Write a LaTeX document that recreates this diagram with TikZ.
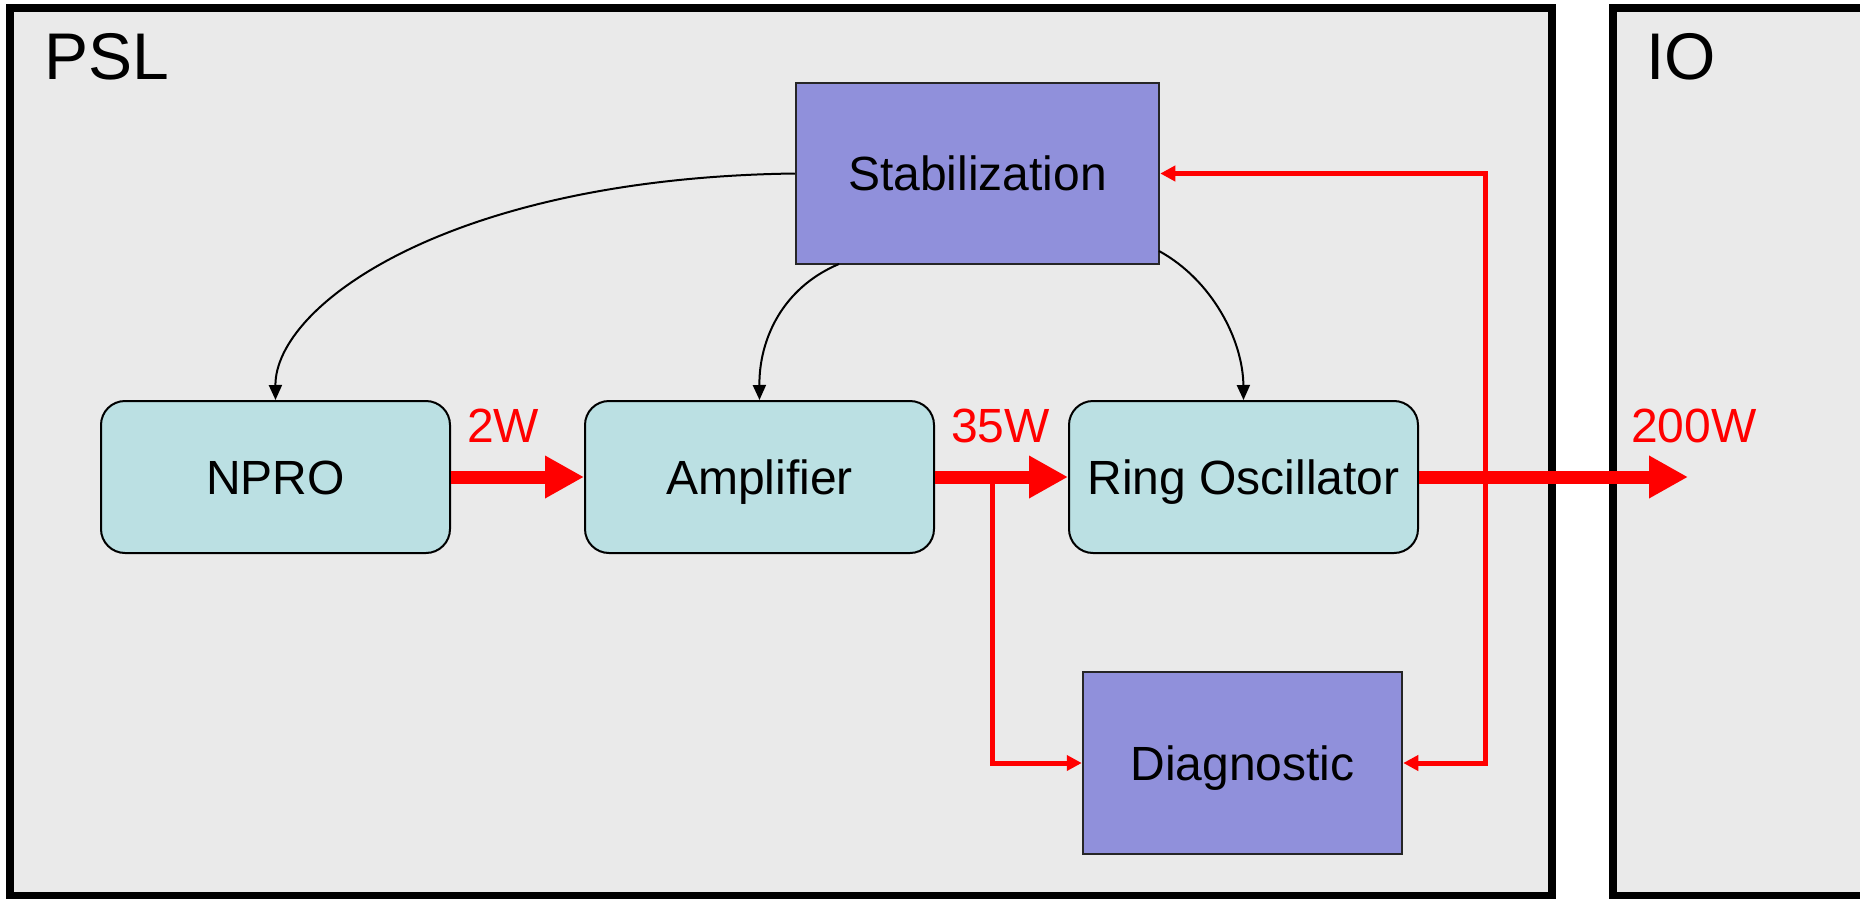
\documentclass[tikz,border=0pt]{standalone}
\usepackage{fontspec}
\setmainfont{Liberation Sans}
\usetikzlibrary{arrows.meta}

\definecolor{panelgray}{RGB}{234,234,234}
\definecolor{tealfill}{RGB}{187,224,227}
\definecolor{violetfill}{RGB}{144,144,219}

\tikzset{probetip/.tip={Triangle[length=15pt,width=15pt]}}

\begin{document}
\begin{tikzpicture}[x=1pt,y=-1pt,
  panel/.style={draw=black, line width=8pt, fill=panelgray},
  title/.style={anchor=base west, inner sep=0pt, font=\fontsize{66}{79}\selectfont},
  label/.style={inner sep=0pt, text height=34.4pt, text depth=0pt, font=\fontsize{48}{58}\selectfont},
  blockbox/.style={label, draw=black, line width=2pt, fill=tealfill, rounded corners=24pt,
                   minimum width=349pt, minimum height=152pt},
  ctrlbox/.style={label, draw=black!85, line width=2.5pt, fill=violetfill},
  power/.style={anchor=base west, inner sep=0pt, text=red, font=\fontsize{48}{58}\selectfont},
  beam/.style={red, line width=13pt, -{Triangle[length=39pt,width=40pt]}},
  probe/.style={red, line width=5pt},
  servo/.style={black, line width=2pt, -{Triangle[length=15pt,width=13pt]}}
]
\useasboundingbox (0,0) rectangle (1860,899);
\clip (0,0) rectangle (1860,899);

% subsystem panels
\path[panel] (10,8) rectangle (1552,896);
\path[panel] (1613,8) rectangle (1900,896);
\node[title] (psl) at (44,80) {PSL};
\node[title] (io) at (1646,80) {IO};

% optical chain
\node[blockbox] (npro) at (275.5,477) {NPRO};
\node[blockbox] (amp)  at (759.5,477) {Amplifier};
\node[blockbox] (ring) at (1243.5,477) {Ring Oscillator};

% control and monitoring
\node[ctrlbox, minimum width=363pt, minimum height=181pt] (stab) at (977.5,173.5) {Stabilization};
\node[ctrlbox, minimum width=319pt, minimum height=182pt] (diag) at (1242.5,763) {Diagnostic};

% power levels
\node[power] (p2)   at (467,442)  {2W};
\node[power] (p35)  at (951,442)  {35W};
\node[power] (p200) at (1631,442) {200W};

% main beam
\coordinate (beamout) at (1688,477);
\draw[beam] (npro.east) -- (amp.west);
\draw[beam] (amp.east) -- (ring.west);
\draw[beam] (ring.east) -- (beamout);

% pick-off to the diagnostic
\coordinate (tap) at (992,477);
\draw[probe, -{probetip}] (tap) |- (diag.west);

% diagnostic feedback to stabilization
\coordinate (fbx) at (1485,0);
\draw[probe, {probetip}-{probetip}] (stab.east) -- (stab.east -| fbx) -- (diag.east -| fbx) -- (diag.east);

% servo actuators
\coordinate (s1) at (839,264);
\coordinate (s2) at (1159,251);
\draw[servo] (stab.west) .. controls (450,178) and (275,305) .. (npro.north);
\draw[servo] (s1) .. controls (782,288) and (759,340) .. (amp.north);
\draw[servo] (s2) .. controls (1212,280) and (1243,340) .. (ring.north);
\end{tikzpicture}
\end{document}
